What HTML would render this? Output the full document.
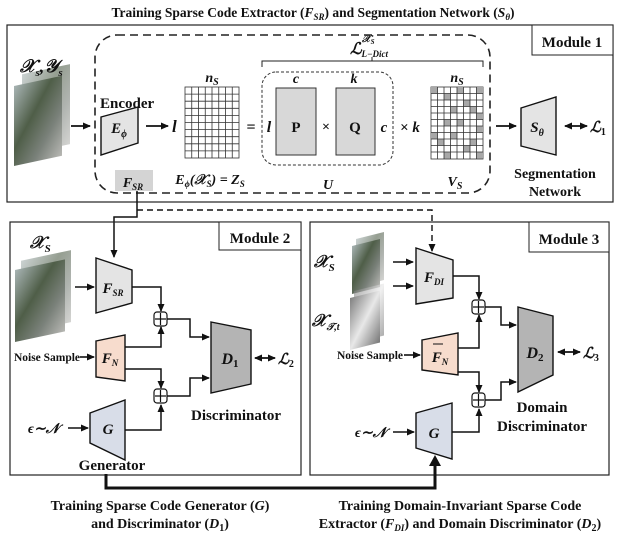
<!DOCTYPE html>
<html><head><meta charset="utf-8"><style>
html,body{margin:0;padding:0;background:#fff}
svg{display:block}
text{font-family:"Liberation Serif",serif;font-weight:bold;fill:#111}
.i{font-style:italic}
</style></head><body>
<svg width="625" height="535" viewBox="0 0 625 535" xmlns="http://www.w3.org/2000/svg">
<defs>
<marker id="a" markerWidth="8" markerHeight="8" refX="7" refY="4" orient="auto" markerUnits="userSpaceOnUse"><path d="M0,0.5 L8,4 L0,7.5 Z" fill="#111"/></marker>
<marker id="b" markerWidth="8" markerHeight="8" refX="1" refY="4" orient="auto" markerUnits="userSpaceOnUse"><path d="M8,0.5 L0,4 L8,7.5 Z" fill="#111"/></marker>
<linearGradient id="img" x1="0" y1="0" x2="1" y2="1"><stop offset="0" stop-color="#a8b4b4"/><stop offset="0.4" stop-color="#4f5e48"/><stop offset="0.7" stop-color="#7a817a"/><stop offset="1" stop-color="#b8b8b4"/></linearGradient>
<linearGradient id="img2" x1="0" y1="0" x2="1" y2="1"><stop offset="0" stop-color="#808080"/><stop offset="0.5" stop-color="#e8e8e8"/><stop offset="1" stop-color="#777"/></linearGradient>
</defs>

<text x="313" y="17" font-size="13.5" text-anchor="middle">Training Sparse Code Extractor (<tspan class="i">F<tspan font-size="9" dy="3">SR</tspan></tspan><tspan dy="-3">) and Segmentation Network (</tspan><tspan class="i">S<tspan font-size="9" dy="3">θ</tspan></tspan><tspan dy="-3">)</tspan></text>

<rect x="7" y="25" width="606" height="177" fill="none" stroke="#222" stroke-width="1.2"/>
<rect x="532" y="25" width="81" height="30" fill="#fff" stroke="#222" stroke-width="1"/>
<text x="572" y="47" font-size="15" text-anchor="middle">Module 1</text>
<rect x="95" y="35" width="395" height="158" rx="22" fill="none" stroke="#222" stroke-width="1.6" stroke-dasharray="8,5"/>

<g transform="translate(14,82) skewY(-12)"><rect x="8" y="-6" width="48" height="80" fill="url(#img)" opacity="0.6"/><rect x="0" y="4" width="48" height="80" fill="url(#img)"/></g>
<text x="20" y="72" font-size="18" class="i">𝒳<tspan font-size="11" dy="4">s</tspan><tspan dy="-4">,</tspan>𝒴<tspan font-size="11" dy="4">s</tspan></text>
<line x1="71" y1="126" x2="90" y2="126" stroke="#111" stroke-width="1.8" marker-end="url(#a)"/>

<text x="100" y="108" font-size="15">Encoder</text>
<polygon points="101,117 138,107 138,143 101,155" fill="#e4e4e4" stroke="#111" stroke-width="1.4"/>
<text x="119" y="133" font-size="15" class="i" text-anchor="middle">E<tspan font-size="10" dy="4">ϕ</tspan></text>
<line x1="146" y1="126" x2="168" y2="126" stroke="#111" stroke-width="1.8" marker-end="url(#a)"/>
<text x="172" y="132" font-size="17" class="i">l</text>

<g stroke="#333" stroke-width="0.8" fill="none">
<rect x="185" y="87" width="54" height="71" fill="#fff"/>
<path d="M191.75,87V158M198.5,87V158M205.25,87V158M212,87V158M218.75,87V158M225.5,87V158M232.25,87V158M185,94.1H239M185,101.2H239M185,108.3H239M185,115.4H239M185,122.5H239M185,129.6H239M185,136.7H239M185,143.8H239M185,150.9H239"/>
</g>
<text x="212" y="82" font-size="14" class="i" text-anchor="middle">n<tspan font-size="10" dy="3">S</tspan></text>
<text x="210" y="184" font-size="14" class="i" text-anchor="middle">E<tspan font-size="9" dy="3">ϕ</tspan><tspan dy="-3">(𝒳</tspan><tspan font-size="9" dy="3">S</tspan><tspan dy="-3">) = Z</tspan><tspan font-size="9" dy="3">S</tspan></text>
<text x="251" y="132" font-size="16" text-anchor="middle">=</text>

<rect x="262" y="72" width="131" height="93" rx="14" fill="none" stroke="#333" stroke-width="1" stroke-dasharray="3,2"/>
<text x="269" y="132" font-size="16" class="i" text-anchor="middle">l</text>
<rect x="276" y="88" width="40" height="67" fill="#d8d8d8" stroke="#333" stroke-width="1"/>
<text x="296" y="132" font-size="15" text-anchor="middle" font-weight="normal">P</text>
<text x="296" y="83" font-size="14" class="i" text-anchor="middle">c</text>
<text x="326" y="131" font-size="14" text-anchor="middle" font-weight="normal">×</text>
<rect x="336" y="88" width="39" height="67" fill="#d8d8d8" stroke="#333" stroke-width="1"/>
<text x="355" y="132" font-size="15" text-anchor="middle" font-weight="normal">Q</text>
<text x="354" y="83" font-size="14" class="i" text-anchor="middle">k</text>
<text x="384" y="132" font-size="15" class="i" text-anchor="middle">c</text>
<text x="410" y="132" font-size="15" text-anchor="middle">× <tspan class="i">k</tspan></text>
<text x="328" y="189" font-size="14" class="i" text-anchor="middle">U</text>

<path d="M262,67 V61 H483 V67 M372,61 V57" fill="none" stroke="#222" stroke-width="1"/>
<text x="350" y="54" font-size="16" class="i">ℒ<tspan font-size="9" dy="3">L−Dict</tspan></text>
<text x="362" y="42" font-size="10" class="i">𝒳<tspan font-size="7" dy="2">S</tspan></text>

<g>
<rect x="431" y="87" width="52" height="72" fill="#fff" stroke="#333" stroke-width="0.8"/>
<g fill="#a8a8a8">
<rect x="431" y="87" width="6.5" height="6.5"/><rect x="457" y="87" width="6.5" height="6.5"/><rect x="476.5" y="87" width="6.5" height="6.5"/>
<rect x="444" y="93.5" width="6.5" height="6.5"/><rect x="463.5" y="100" width="6.5" height="6.5"/><rect x="450.5" y="106.5" width="6.5" height="6.5"/>
<rect x="470" y="106.5" width="6.5" height="6.5"/><rect x="476.5" y="113" width="6.5" height="6.5"/><rect x="444" y="119.5" width="6.5" height="6.5"/>
<rect x="457" y="119.5" width="6.5" height="6.5"/><rect x="431" y="132.5" width="6.5" height="6.5"/><rect x="476.5" y="126" width="6.5" height="6.5"/>
<rect x="450.5" y="132.5" width="6.5" height="6.5"/><rect x="437.5" y="139" width="6.5" height="6.5"/><rect x="470" y="139" width="6.5" height="6.5"/>
<rect x="463.5" y="145.5" width="6.5" height="6.5"/><rect x="444" y="152" width="6.5" height="6.5"/><rect x="476.5" y="152" width="6.5" height="6.5"/>
</g>
<path d="M437.5,87V159M444,87V159M450.5,87V159M457,87V159M463.5,87V159M470,87V159M476.5,87V159M431,93.5H483M431,100H483M431,106.5H483M431,113H483M431,119.5H483M431,126H483M431,132.5H483M431,139H483M431,145.5H483M431,152H483" stroke="#333" stroke-width="0.8" fill="none"/>
</g>
<text x="457" y="82" font-size="14" class="i" text-anchor="middle">n<tspan font-size="10" dy="3">S</tspan></text>
<text x="455" y="186" font-size="14" class="i" text-anchor="middle">V<tspan font-size="10" dy="3">S</tspan></text>

<line x1="496" y1="126" x2="516" y2="126" stroke="#111" stroke-width="1.8" marker-end="url(#a)"/>
<polygon points="521,108 556,97 556,155 521,146" fill="#e4e4e4" stroke="#111" stroke-width="1.4"/>
<text x="537" y="132" font-size="15" class="i" text-anchor="middle">S<tspan font-size="10" dy="4">θ</tspan></text>
<line x1="565" y1="126" x2="587" y2="126" stroke="#111" stroke-width="1.8" marker-start="url(#b)" marker-end="url(#a)"/>
<text x="590" y="132" font-size="15" class="i">ℒ<tspan font-size="10" dy="3" font-style="normal">1</tspan></text>
<text x="555" y="178" font-size="14" text-anchor="middle">Segmentation</text>
<text x="555" y="196" font-size="14" text-anchor="middle">Network</text>

<rect x="115" y="170" width="38" height="21" fill="#d4d4d4"/>
<text x="133" y="187" font-size="14" class="i" text-anchor="middle">F<tspan font-size="9" dy="3">SR</tspan></text>

<path d="M137,191 V217 H114 V257" fill="none" stroke="#111" stroke-width="1.5" marker-end="url(#a)"/>
<path d="M137,210 H432 V251" fill="none" stroke="#111" stroke-width="1.4" stroke-dasharray="6,4" marker-end="url(#a)"/>

<rect x="10" y="222" width="291" height="253" fill="none" stroke="#222" stroke-width="1.2"/>
<rect x="219" y="222" width="82" height="28" fill="#fff" stroke="#222" stroke-width="1"/>
<text x="260" y="243" font-size="15" text-anchor="middle">Module 2</text>
<text x="30" y="248" font-size="17" class="i">𝒳<tspan font-size="11" dy="4">S</tspan></text>
<g transform="translate(15,266) skewY(-12)"><rect x="6" y="-4" width="50" height="72" fill="url(#img)" opacity="0.6"/><rect x="0" y="4" width="50" height="72" fill="url(#img)"/></g>
<line x1="75" y1="287" x2="94" y2="287" stroke="#111" stroke-width="1.6" marker-end="url(#a)"/>
<polygon points="96,258 132,270 132,303 96,313" fill="#e4e4e4" stroke="#111" stroke-width="1.4"/>
<text x="113" y="293" font-size="15" class="i" text-anchor="middle">F<tspan font-size="9" dy="3">SR</tspan></text>
<text x="14" y="361" font-size="11.5" font-weight="normal" textLength="66">Noise Sample</text>
<line x1="80" y1="357" x2="94" y2="357" stroke="#111" stroke-width="1.6" marker-end="url(#a)"/>
<polygon points="96,341 125,335 125,381 96,377" fill="#f7dccd" stroke="#111" stroke-width="1.4"/>
<text x="110" y="363" font-size="15" class="i" text-anchor="middle">F<tspan font-size="9" dy="3">N</tspan></text>
<text x="28" y="433" font-size="14" class="i">ϵ∼𝒩</text>
<line x1="68" y1="428" x2="88" y2="428" stroke="#111" stroke-width="1.6" marker-end="url(#a)"/>
<polygon points="90,413 125,400 125,460 90,443" fill="#d8dde8" stroke="#111" stroke-width="1.4"/>
<text x="108" y="434" font-size="15" class="i" text-anchor="middle">G</text>
<text x="112" y="470" font-size="15" text-anchor="middle">Generator</text>
<g fill="none" stroke="#111" stroke-width="1.5">
<path d="M132,287 H161 V311" marker-end="url(#a)"/>
<path d="M125,347 H161 V327" marker-end="url(#a)"/>
<path d="M125,369 H161 V388" marker-end="url(#a)"/>
<path d="M125,430 H161 V405" marker-end="url(#a)"/>
<path d="M167,319 H190 V337 H209" marker-end="url(#a)"/>
<path d="M167,396 H190 V378 H209" marker-end="url(#a)"/>
</g>
<g stroke="#111" stroke-width="1.2" fill="#fff">
<rect x="154" y="312" width="13" height="14" rx="3"/><path d="M155,319H166M160.5,313V325"/>
<rect x="154" y="389" width="13" height="14" rx="3"/><path d="M155,396H166M160.5,390V402"/>
</g>
<polygon points="211,322 251,330 251,384 211,393" fill="#b4b4b4" stroke="#111" stroke-width="1.4"/>
<text x="230" y="364" font-size="16" class="i" text-anchor="middle">D<tspan font-size="11" dy="3" font-style="normal">1</tspan></text>
<line x1="255" y1="358" x2="275" y2="358" stroke="#111" stroke-width="1.7" marker-start="url(#b)" marker-end="url(#a)"/>
<text x="278" y="364" font-size="15" class="i">ℒ<tspan font-size="10" dy="3" font-style="normal">2</tspan></text>
<text x="236" y="420" font-size="15" text-anchor="middle">Discriminator</text>

<rect x="310" y="222" width="299" height="253" fill="none" stroke="#222" stroke-width="1.2"/>
<rect x="529" y="222" width="80" height="30" fill="#fff" stroke="#222" stroke-width="1"/>
<text x="569" y="244" font-size="15" text-anchor="middle">Module 3</text>
<g transform="translate(352,243) skewY(-14)"><rect x="4" y="-3" width="28" height="48" fill="url(#img)" opacity="0.6"/><rect x="0" y="3" width="28" height="48" fill="url(#img)"/></g>
<g transform="translate(350,295) skewY(-14)"><rect x="4" y="-3" width="30" height="52" fill="url(#img2)" opacity="0.6"/><rect x="0" y="3" width="30" height="52" fill="url(#img2)"/></g>
<text x="314" y="267" font-size="17" class="i">𝒳<tspan font-size="11" dy="4">S</tspan></text>
<text x="312" y="326" font-size="17" class="i">𝒳<tspan font-size="10" dy="4">𝒯,t</tspan></text>
<line x1="393" y1="262" x2="413" y2="262" stroke="#111" stroke-width="1.6" marker-end="url(#a)"/>
<line x1="393" y1="286" x2="413" y2="286" stroke="#111" stroke-width="1.6" marker-end="url(#a)"/>
<polygon points="416,248 453,260 453,298 416,304" fill="#e4e4e4" stroke="#111" stroke-width="1.4"/>
<text x="434" y="282" font-size="15" class="i" text-anchor="middle">F<tspan font-size="9" dy="3">DI</tspan></text>
<text x="337" y="359" font-size="11.5" font-weight="normal" textLength="66">Noise Sample</text>
<line x1="404" y1="355" x2="420" y2="355" stroke="#111" stroke-width="1.6" marker-end="url(#a)"/>
<polygon points="422,340 458,333 458,375 422,370" fill="#f7dccd" stroke="#111" stroke-width="1.4"/>
<text x="440" y="362" font-size="15" class="i" text-anchor="middle">F<tspan font-size="9" dy="3">N</tspan></text>
<line x1="433" y1="344" x2="443" y2="344" stroke="#111" stroke-width="1"/>
<text x="355" y="437" font-size="14" class="i">ϵ∼𝒩</text>
<line x1="393" y1="432" x2="414" y2="432" stroke="#111" stroke-width="1.6" marker-end="url(#a)"/>
<polygon points="416,413 452,403 452,459 416,448" fill="#d8dde8" stroke="#111" stroke-width="1.4"/>
<text x="434" y="438" font-size="15" class="i" text-anchor="middle">G</text>
<g fill="none" stroke="#111" stroke-width="1.5">
<path d="M453,276 H479 V299" marker-end="url(#a)"/>
<path d="M458,348 H479 V315" marker-end="url(#a)"/>
<path d="M458,372 H479 V392" marker-end="url(#a)"/>
<path d="M452,432 H479 V409" marker-end="url(#a)"/>
<path d="M485,307 H501 V325 H516" marker-end="url(#a)"/>
<path d="M485,400 H501 V382 H516" marker-end="url(#a)"/>
</g>
<g stroke="#111" stroke-width="1.2" fill="#fff">
<rect x="472" y="300" width="13" height="14" rx="3"/><path d="M473,307H484M478.5,301V313"/>
<rect x="472" y="393" width="13" height="14" rx="3"/><path d="M473,400H484M478.5,394V406"/>
</g>
<polygon points="518,307 553,316 553,375 518,392" fill="#b4b4b4" stroke="#111" stroke-width="1.4"/>
<text x="535" y="358" font-size="16" class="i" text-anchor="middle">D<tspan font-size="11" dy="3" font-style="normal">2</tspan></text>
<line x1="558" y1="352" x2="580" y2="352" stroke="#111" stroke-width="1.7" marker-start="url(#b)" marker-end="url(#a)"/>
<text x="583" y="358" font-size="15" class="i">ℒ<tspan font-size="10" dy="3" font-style="normal">3</tspan></text>
<text x="542" y="412" font-size="15" text-anchor="middle">Domain</text>
<text x="542" y="431" font-size="15" text-anchor="middle">Discriminator</text>

<path d="M106,474 V488 H435 V463" fill="none" stroke="#111" stroke-width="3"/>
<path d="M429,466 L435,455 L441,466 Z" fill="#111"/>

<text x="160" y="510" font-size="14" text-anchor="middle">Training Sparse Code Generator (<tspan class="i">G</tspan>)</text>
<text x="160" y="528" font-size="14" text-anchor="middle">and Discriminator (<tspan class="i">D</tspan><tspan font-size="10" dy="3">1</tspan><tspan dy="-3">)</tspan></text>
<text x="460" y="510" font-size="14" text-anchor="middle">Training Domain-Invariant Sparse Code</text>
<text x="460" y="528" font-size="14" text-anchor="middle">Extractor (<tspan class="i">F<tspan font-size="9" dy="3">DI</tspan></tspan><tspan dy="-3">) and Domain Discriminator (</tspan><tspan class="i">D</tspan><tspan font-size="10" dy="3">2</tspan><tspan dy="-3">)</tspan></text>
</svg>
</body></html>
